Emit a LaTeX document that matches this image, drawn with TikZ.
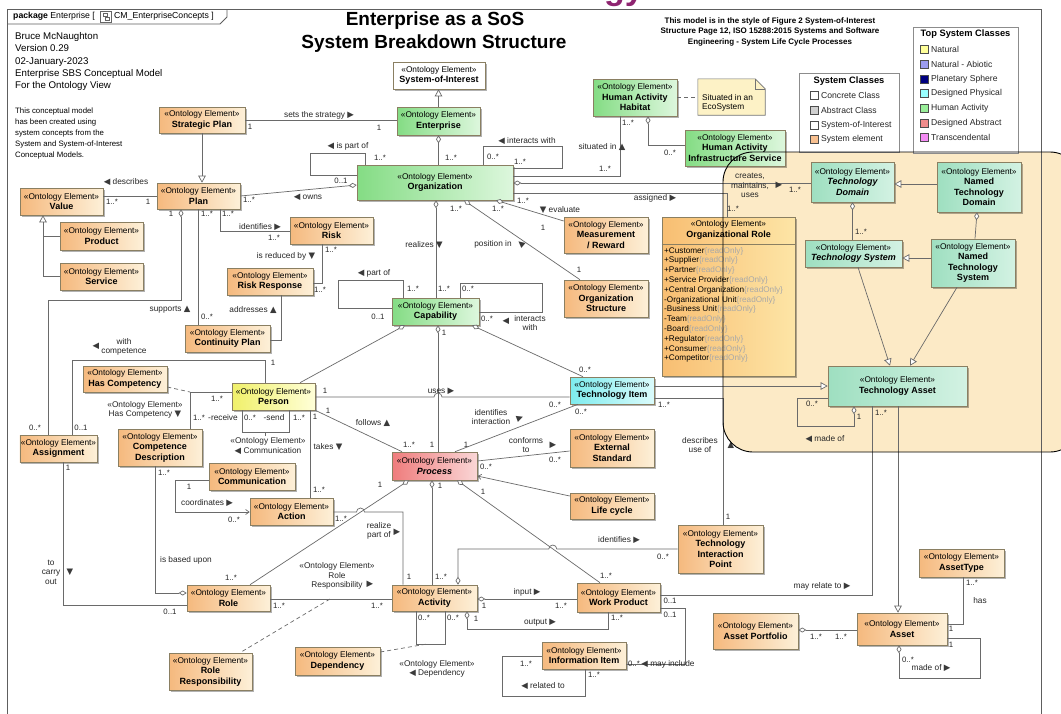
\documentclass[tikz,border=0pt]{standalone}
\usepackage{fontspec}
\setmainfont{Liberation Sans}
\newfontfamily\symf{DejaVu Sans}
\usetikzlibrary{arrows.meta,shadows}

\definecolor{bdr}{HTML}{8A7F62}
\definecolor{lc}{HTML}{6A6A6A}
\definecolor{oL}{HTML}{F5B97E}
\definecolor{oR}{HTML}{FDF0D8}
\definecolor{gL}{HTML}{84DC84}
\definecolor{gR}{HTML}{DDF7DD}
\definecolor{mL}{HTML}{9EDFC0}
\definecolor{mR}{HTML}{D3F2E3}
\definecolor{cL}{HTML}{7EECEE}
\definecolor{cR}{HTML}{DAFBFB}
\definecolor{rL}{HTML}{EF7C7C}
\definecolor{rR}{HTML}{FAD6D6}
\definecolor{yL}{HTML}{F0F06A}
\definecolor{yR}{HTML}{FFFFD8}
\definecolor{rlL}{HTML}{F8BE72}
\definecolor{rlR}{HTML}{FDE5A6}
\definecolor{region}{HTML}{FCEAC6}
\definecolor{notefill}{HTML}{FDF2C6}
\definecolor{ro}{HTML}{A8A8A8}
\definecolor{tri}{HTML}{3A3A3A}
\definecolor{lgd}{HTML}{8C8C8C}
\definecolor{frm}{HTML}{5E5E5E}
\definecolor{brand}{HTML}{8E2470}
\definecolor{cNat}{HTML}{FFFF99}
\definecolor{cAbi}{HTML}{9C9CF0}
\definecolor{cPla}{HTML}{000080}
\definecolor{cDph}{HTML}{99FFFF}
\definecolor{cHum}{HTML}{99EE99}
\definecolor{cDab}{HTML}{F08C8C}
\definecolor{cTra}{HTML}{F58CF5}
\definecolor{cAbs}{HTML}{D0D0D0}
\definecolor{cEle}{HTML}{F8C090}

\newcommand{\stereo}{{\mdseries\fontsize{8.3}{10}\selectfont «Ontology Element»}\\}
\newcommand{\triR}{{\symf\fontsize{8.5}{9}\selectfont\textcolor{tri}{▶}}}
\newcommand{\triL}{{\symf\fontsize{8.5}{9}\selectfont\textcolor{tri}{◀}}}
\newcommand{\triU}{{\symf\fontsize{8.5}{9}\selectfont\textcolor{tri}{▲}}}
\newcommand{\triD}{{\symf\fontsize{8.5}{9}\selectfont\textcolor{tri}{▼}}}
\newcommand{\rdo}{\textcolor{ro}{\{readOnly\}}}
% class box: style, name, centre, width, height, then the text
\newcommand{\umlbox}[5]{\node[#1, minimum width=#4, minimum height=#5] (#2) at (#3)}
% free-standing connector label with an automatic name
\newcounter{lbc}
\newcommand{\lb}[3][lbl]{\stepcounter{lbc}\edef\lbname{lb\arabic{lbc}}\node[#1] (\lbname) at (#2) {#3};}

\tikzset{
  box/.style={draw=bdr, line width=0.6pt, align=center, inner sep=1pt,
    font=\fontsize{9}{10.5}\selectfont\bfseries,
    drop shadow={shadow xshift=1.6pt, shadow yshift=-1.6pt, opacity=0.3, fill=black}},
  orng/.style={box, left color=oL, right color=oR},
  grn/.style={box, left color=gL, right color=gR},
  mint/.style={box, left color=mL, right color=mR},
  cyn/.style={box, left color=cL, right color=cR},
  redb/.style={box, left color=rL, right color=rR},
  yel/.style={box, left color=yL, right color=yR},
  wht/.style={box, fill=white},
  conn/.style={draw=lc, line width=0.7pt},
  gen/.style={conn, -{Triangle[length=7pt,width=7.5pt,fill=white]}},
  agg/.style={conn, {Diamond[length=8pt,width=5pt,fill=white]}-},
  agge/.style={conn, -{Diamond[length=8pt,width=5pt,fill=white]}},
  nav/.style={conn, -{Straight Barb[length=3.5pt,width=5pt]}},
  dsh/.style={conn, dash pattern=on 4pt off 3pt},
  lbl/.style={font=\fontsize{8.3}{9.5}\selectfont, text=black!85, inner sep=0pt, align=center},
  mul/.style={font=\fontsize{7.8}{9}\selectfont, text=black!85, inner sep=0pt},
  sw/.style={draw=black!70, minimum size=8, inner sep=0pt, line width=0.5pt},
  lgt/.style={anchor=west, font=\fontsize{8.6}{10}\selectfont, inner sep=0pt, text=black!85},
}

\begin{document}
\begin{tikzpicture}[x=1pt,y=-1pt]
\useasboundingbox (0,0) rectangle (1061,713);
\fill[white] (0,0) rectangle (1061,713);

% tail of a large heading above the sheet
\node[anchor=base west, font=\fontsize{34}{34}\selectfont\bfseries, text=brand, inner sep=0pt] (brand) at (604,-1) {gy};

% technology region background
\path[fill=region, rounded corners=30pt] (723,152) rectangle (1080,452);

% package frame and tab
\draw[frm, line width=0.8pt] (7,716) -- (7,9) -- (1041,9) -- (1041,716);
\draw[frm, line width=0.8pt] (7,24) -- (220,24) -- (227,17) -- (227,9);
\node[anchor=west, inner sep=0pt, font=\fontsize{8.7}{10}\selectfont] (tabtxt) at (13,16.5) {\textbf{package} Enterprise [};
\node[draw=black!60, fill=white, minimum width=11, minimum height=11, inner sep=0pt] (tabicon) at (106,16.5) {};
\draw[black!60, line width=0.5pt] ([xshift=-3pt,yshift=3pt]tabicon.center) rectangle ([xshift=1pt,yshift=0pt]tabicon.center);
\draw[black!60, line width=0.5pt] ([xshift=-1pt,yshift=-1pt]tabicon.center) rectangle ([xshift=3pt,yshift=-3.5pt]tabicon.center);
\node[anchor=west, inner sep=0pt, font=\fontsize{8.7}{10}\selectfont] (tabtxt2) at (114,16.5) {CM\_EnterpriseConcepts ]};

% heading texts
\node[anchor=north west, align=left, inner sep=0pt, font=\fontsize{9.7}{12.4}\selectfont] (author) at (15,32) {Bruce McNaughton\\Version 0.29\\02-January-2023\\Enterprise SBS Conceptual Model\\For the Ontology View};
\node[anchor=north west, align=left, inner sep=0pt, font=\fontsize{7.8}{10.8}\selectfont] (about) at (15,108) {This conceptual model\\has been created using\\system concepts from the\\System and System-of-Interest\\Conceptual Models.};
\node[font=\fontsize{19}{22}\selectfont\bfseries] (title1) at (435,21) {Enterprise as a SoS};
\node[font=\fontsize{19}{22}\selectfont\bfseries] (title2) at (434,44) {System Breakdown Structure};
\node[align=center, inner sep=0pt, font=\fontsize{8}{10.5}\selectfont\bfseries] (source) at (770,31.5) {This model is in the style of Figure 2 System-of-Interest\\Structure Page 12, ISO 15288:2015 Systems and Software\\Engineering - System Life Cycle Processes};

% legends
\node[draw=lgd, fill=white, line width=0.6pt, minimum width=100, minimum height=79] (sclg) at (849,112.5) {};
\node[font=\fontsize{9.3}{10}\selectfont\bfseries, inner sep=0pt] (sclt) at (849,81) {System Classes};
\node[sw, fill=white] (sc1) at (814,95) {};   \node[lgt] (sc1t) at (821,95) {Concrete Class};
\node[sw, fill=cAbs] (sc2) at (814,110) {};   \node[lgt] (sc2t) at (821,110) {Abstract Class};
\node[sw, fill=white] (sc3) at (814,125) {};  \node[lgt] (sc3t) at (821,125) {System-of-Interest};
\node[sw, fill=cEle] (sc4) at (814,139) {};   \node[lgt] (sc4t) at (821,139) {System element};

\node[draw=lgd, fill=white, line width=0.6pt, minimum width=105, minimum height=126] (tslg) at (965.5,90) {};
\node[font=\fontsize{9.3}{10}\selectfont\bfseries, inner sep=0pt] (tslt) at (965.5,34) {Top System Classes};
\node[sw, fill=cNat] (ts1) at (924,49) {};  \node[lgt] (ts1t) at (931,49) {Natural};
\node[sw, fill=cAbi] (ts2) at (924,64) {};  \node[lgt] (ts2t) at (931,64) {Natural - Abiotic};
\node[sw, fill=cPla] (ts3) at (924,79) {};  \node[lgt] (ts3t) at (931,79) {Planetary Sphere};
\node[sw, fill=cDph] (ts4) at (924,93) {};  \node[lgt] (ts4t) at (931,93) {Designed Physical};
\node[sw, fill=cHum] (ts5) at (924,108) {}; \node[lgt] (ts5t) at (931,108) {Human Activity};
\node[sw, fill=cDab] (ts6) at (924,123) {}; \node[lgt] (ts6t) at (931,123) {Designed Abstract};
\node[sw, fill=cTra] (ts7) at (924,137) {}; \node[lgt] (ts7t) at (931,137) {Transcendental};

% ---------------- classes ----------------
\umlbox{wht}{soi}{439,75.5}{92}{27}{\stereo System-of-Interest};
\umlbox{grn}{ent}{438.5,121}{83}{28}{\stereo Enterprise};
\umlbox{orng}{strat}{202,120}{86}{26}{\stereo Strategic Plan};
\umlbox{grn}{org}{435,182.5}{156}{35}{\stereo Organization};
\umlbox{grn}{hah}{635,97.5}{84}{37}{\stereo Human Activity\\Habitat};
\umlbox{grn}{hais}{735,148}{100}{36}{\stereo Human Activity\\Infrastructure Service};
\umlbox{orng}{value}{61.5,201.5}{83}{27}{\stereo Value};
\umlbox{orng}{plan}{198.5,196}{83}{26}{\stereo Plan};
\umlbox{orng}{product}{101.5,236}{83}{28}{\stereo Product};
\umlbox{orng}{service}{101.5,276.5}{83}{27}{\stereo Service};
\umlbox{orng}{risk}{331.5,230.5}{83}{27}{\stereo Risk};
\umlbox{orng}{rresp}{270,281.5}{86}{27}{\stereo Risk Response};
\umlbox{orng}{contp}{227.5,338.5}{85}{27}{\stereo Continuity Plan};
\umlbox{orng}{meas}{606,235}{84}{36}{\stereo Measurement\\/ Reward};
\umlbox{orng}{ostruct}{606,298.5}{84}{37}{\stereo Organization\\Structure};
\umlbox{grn}{cap}{435.5,311.5}{87}{27}{\stereo Capability};
\umlbox{mint}{tdom}{852.5,182}{83}{40}{\stereo{\itshape Technology}\\{\itshape Domain}};
\umlbox{mint}{ntdom}{979,187}{84}{50}{\stereo Named\\Technology\\Domain};
\umlbox{mint}{tsys}{853.5,253.5}{97}{27}{\stereo{\itshape Technology System}};
\umlbox{mint}{ntsys}{973,263}{84}{48}{\stereo Named\\Technology\\System};
\umlbox{mint}{tasset}{897.5,386}{139}{40}{\stereo Technology Asset};
\umlbox{orng}{hascomp}{125,379}{84}{26}{\stereo Has Competency};
\umlbox{yel}{person}{273.5,396.5}{83}{27}{\stereo Person};
\umlbox{orng}{assign}{58.5,448.5}{75}{27}{\stereo Assignment};
\umlbox{orng}{compdesc}{160,447.5}{84}{37}{\stereo Competence\\Description};
\umlbox{orng}{comm}{252,476.5}{86}{27}{\stereo Communication};
\umlbox{orng}{action}{291.5,511.5}{83}{27}{\stereo Action};
\umlbox{cyn}{titem}{612,390.5}{84}{27}{\stereo Technology Item};
\umlbox{redb}{proc}{434.5,466}{85}{28}{\stereo{\itshape Process}};
\umlbox{orng}{extstd}{612,448}{84}{38}{\stereo External\\Standard};
\umlbox{orng}{lcyc}{612,506}{84}{26}{\stereo Life cycle};
\umlbox{orng}{tip}{720.5,549}{85}{48}{\stereo Technology\\Interaction\\Point};
\umlbox{orng}{role}{228.5,598}{83}{26}{\stereo Role};
\umlbox{orng}{activity}{434.5,598}{85}{26}{\stereo Activity};
\umlbox{orng}{wprod}{618.5,597.5}{83}{29}{\stereo Work Product};
\umlbox{orng}{rolresp}{210.5,671.5}{83}{37}{\stereo Role\\Responsibility};
\umlbox{orng}{dep}{337.5,661}{85}{28}{\stereo Dependency};
\umlbox{orng}{info}{584,655.5}{84}{27}{\stereo Information Item};
\umlbox{orng}{asset}{902,629}{90}{32}{\stereo Asset};
\umlbox{orng}{atype}{961.5,563}{85}{28}{\stereo AssetType};
\umlbox{orng}{aport}{755.5,631}{85}{36}{\stereo Asset Portfolio};

% organizational role with its attribute compartment
\node[box, left color=rlL, right color=rlR, minimum width=133, minimum height=159] (orgrole) at (728.5,296.5) {};
\node[align=center, inner sep=0pt, font=\fontsize{9}{10.5}\selectfont\bfseries] (orgrolehd) at (728.5,230) {\stereo Organizational Role};
\draw[draw=bdr, line width=0.6pt] (orgrole.west |- 0,244) -- (orgrole.east |- 0,244);
\node[anchor=north west, align=left, inner sep=0pt, font=\fontsize{8.2}{9.8}\selectfont] (orgroleattr) at (664,247) {+Customer\rdo\\+Supplier\rdo\\+Partner\rdo\\+Service Provider\rdo\\+Central Organization\rdo\\-Organizational Unit\rdo\\-Business Unit\rdo\\-Team\rdo\\-Board\rdo\\+Regulator\rdo\\+Consumer\rdo\\+Competitor\rdo};

% note
\node[minimum width=67, minimum height=36, inner sep=0pt] (note) at (731.5,97) {};
\draw[draw=black!55, fill=notefill, line width=0.6pt] (note.north west) -- ([xshift=-10pt]note.north east) -- ([yshift=-10pt]note.north east) -- (note.south east) -- (note.south west) -- cycle;
\draw[black!55, line width=0.6pt] ([xshift=-10pt]note.north east) -- ([xshift=-10pt,yshift=-10pt]note.north east) -- ([yshift=-10pt]note.north east);
\node[anchor=north west, align=left, inner sep=0pt, font=\fontsize{8.3}{9.5}\selectfont] (notetxt) at (702,94) {Situated in an\\EcoSystem};

% ---------------- connectors ----------------
\draw[conn] (strat.east) -- (strat.east -| ent.west);
\draw[gen] (ent.north) -- (ent.north |- soi.south);
\draw[gen] (strat.south) -- (strat.south |- plan.north);
\draw[agg] (ent.south) -- (ent.south |- org.north);
\draw[conn] (org.north -| 365,0) -- (365,153) -- (310,153) -- (310,175) -- (org.west |- 0,175);
\draw[conn] (org.north -| 483,0) -- (483,146) -- (562,146) -- (562,168) -- (org.east |- 0,168);
\draw[conn] (org.east |- 0,176) -- (620,176) -- (hah.south -| 620,0);
\draw[agg] (hah.south -| 648,0) -- (648,145) -- (hais.west |- 0,145);
\draw[dsh] (hah.east) -- (note.west |- hah.east);
\draw[agg] (org.east |- 0,183) -- (tdom.west |- 0,183);
\draw[conn] (org.east |- 0,193) -- (727,193) -- (orgrole.north -| 727,0);
\draw[agg] (org.south -| 436,0) -- (cap.north -| 436,0);
\draw[agg] (org.south -| 464,0) -- (ostruct.north -| 580,0);
\draw[agg] (org.south -| 496,0) -- (meas.west |- 0,221);
\draw[agge] (plan.east) -- (org.west |- 0,185);

\draw[conn] (value.east |- plan.west) -- (plan.west);
\draw[gen] (service.west) -- (service.west -| 43,0) -- (value.south -| 43,0);
\draw[conn] (product.west) -- (product.west -| 43,0);
\draw[conn] (plan.south -| 220,0) -- (220,231) -- (risk.west |- 0,231);
\draw[conn] (risk.south -| 322,0) -- (322,283) -- (rresp.east |- 0,283);
\draw[conn] (plan.south) -- (plan.south |- contp.north);
\draw[conn] (rresp.south -| 281,0) -- (281,340) -- (contp.east |- 0,340);
\draw[agg] (plan.south -| 181,0) -- (181,300) -- (48,300) -- (assign.north -| 48,0);
\draw[conn] (assign.north -| 72,0) -- (72,360) -- (265,360) -- (person.north -| 265,0);
\draw[conn] (assign.south -| 63,0) -- (63,605) -- (role.west |- 0,605);

\draw[conn] (cap.west |- 0,308) -- (338,308) -- (338,280) -- (403,280) -- (cap.north -| 403,0);
\draw[conn] (cap.north -| 460,0) -- (460,283) -- (542,283) -- (542,312) -- (cap.east |- 0,312);

\coordinate (hcj) at (190,392);
\draw[conn] (person.west |- hcj) -- (hcj) -- (compdesc.north -| hcj);
\draw[dsh] (hascomp.east |- 0,387) -- (hcj);
\draw[conn] (person.south -| 242,0) -- (242,432) -- (289,432) -- (person.south -| 289,0);
\coordinate (cmj) at (265,432);
\draw[dsh] (cmj) -- ++(0,6);
\draw[conn] (person.south -| 310,0) -- (action.north -| 310,0);
\draw[nav] (comm.west |- 0,480) -- (175,480) -- (175,512) -- (action.west |- 0,512);
\draw[agge] (compdesc.south -| 155,0) -- (155,593) -- (role.west |- 0,593);
\draw[agg] (cap.south -| 405,0) -- (person.north -| 300,0);
\draw[agg] (cap.south -| 472,0) -- (titem.north -| 583,0);
\draw[conn] (person.east |- 0,397) -- (434,397) arc[start angle=180, end angle=360, radius=4] -- (titem.west |- 0,397);

\draw[agg] (cap.south -| 438,0) -- (proc.north -| 438,0);
\draw[conn] (person.south east) -- (proc.north -| 402,0);
\draw[conn] (proc.north -| 455,0) -- (titem.south -| 578,0);
\draw[conn] (proc.east |- 0,461) -- (extstd.west |- 0,451);
\draw[nav] (lcyc.west |- 0,496) -- (proc.east |- 0,476);
\draw[agg] (proc.south -| 409,0) -- (role.north -| 250,0);
\draw[conn] (action.east |- 0,512) -- (356.5,512) arc[start angle=180, end angle=360, radius=4] -- (403,512) -- (activity.north -| 403,0);
\draw[agg] (proc.south -| 432,0) -- (activity.north -| 432,0);
\draw[agg] (proc.south -| 457,0) -- (wprod.north -| 600,0);
\draw[agg] (activity.north -| 458,0) -- (458,549) -- (548.8,549) arc[start angle=180, end angle=360, radius=4] -- (tip.west |- 0,549);

\draw[conn] (role.east |- 0,599) -- (activity.west |- 0,599);
\coordinate (rrj) at (330,599);
\draw[dsh] (rrj) -- (rolresp.north -| 240,0);
\draw[conn] (activity.south -| 416,0) -- (416,644) -- (445,644) -- (activity.south -| 445,0);
\coordinate (dpj) at (427,644);
\draw[dsh] (dep.east |- 0,652) -- (dpj);
\draw[agg] (activity.east |- 0,599) -- (wprod.west |- 0,599);
\draw[agg] (activity.south -| 467,0) -- (467,629) -- (608,629) -- (wprod.south -| 608,0);
\draw[conn] (wprod.east |- 0,595) -- (872,595) -- (tasset.south -| 872,0);
\draw[conn] (wprod.east |- 0,608) -- (685,608) -- (685,664) -- (info.east |- 0,664);
\draw[conn] (info.west |- 0,656) -- (502,656) -- (502,696) -- (585,696) -- (info.south -| 585,0);

\draw[gen] (titem.east |- 0,386) -- (tasset.west |- 0,386);
\draw[conn] (titem.east |- 0,398) -- (723,398) -- (tip.north -| 723,0);
\draw[agg] (tdom.south) -- (tdom.south |- tsys.north);
\draw[gen] (ntdom.west |- 0,184) -- (tdom.east |- 0,184);
\draw[gen] (ntsys.west |- 0,258) -- (tsys.east |- 0,258);
\draw[agg] (ntdom.south -| 977,0) -- (ntsys.north -| 975,0);
\draw[gen] (tsys.south -| 858,0) -- (tasset.north -| 890,0);
\draw[gen] (ntsys.south -| 957,0) -- (tasset.north -| 910,0);
\draw[agg] (tasset.south -| 854,0) -- (854,426) -- (797,426) -- (797,398) -- (tasset.west |- 0,398);
\draw[gen] (tasset.south -| 898,0) -- (asset.north -| 898,0);
\draw[conn] (atype.south -| 963,0) -- (963,624) -- (asset.east |- 0,624);
\draw[agge] (asset.east |- 0,638) -- (980,638) -- (980,678) -- (899,678) -- (asset.south -| 899,0);
\draw[agg] (aport.east |- 0,630) -- (asset.west |- 0,630);

% ---------------- labels ----------------
\lb[mul]{250,127}{1}
\lb{319,115}{sets the strategy \triR}
\lb[mul]{379,128}{1}
\lb[mul]{451,158}{1..*}
\lb{348,146}{\triL\ is part of}
\lb[mul]{380,158}{1..*}
\lb[mul]{341,181}{0..1}
\lb{527,141}{\triL\ interacts with}
\lb[mul]{493,157}{0..*}
\lb[mul]{520,162}{1..*}
\lb{602,147}{situated in \triU}
\lb[mul]{628,123}{1..*}
\lb[mul]{605,169}{1..*}
\lb[mul]{670,153}{0..*}
\lb{750,185.5}{creates,\\maintains,\\uses}
\lb{779,185}{\triR}
\lb[mul]{795,190}{1..*}
\lb{655,198}{assigned \triR}
\lb[mul]{733,209}{1..*}
\lb[mul]{456,209}{1..*}
\lb[mul]{498,209}{1..*}
\lb[mul]{523,201}{1..*}
\lb{560,210}{\triD\ evaluate}
\lb[mul]{543,228}{1}
\lb{424,245}{realizes \triD}
\lb{493,244}{position in}
\lb[lbl,rotate=-40]{521,244}{\triL}
\lb[mul]{579,270}{1}
\lb[mul]{413,289}{1..*}
\lb[mul]{444,289}{1..*}
\lb[mul]{468,289}{0..*}
\lb{374,273}{\triL\ part of}
\lb[mul]{378,317}{0..1}
\lb[mul]{487,319}{0..*}
\lb{530,323}{interacts\\with}
\lb{506,321}{\triL}
\lb[mul]{444,333}{1}

\lb{126,182}{\triL\ describes}
\lb[mul]{112,202}{1..*}
\lb[mul]{148,202}{1}
\lb[mul]{249,200}{1..*}
\lb{308,197}{\triL\ owns}
\lb[mul]{228,214}{1..*}
\lb{260,227}{identifies \triR}
\lb[mul]{274,238}{1..*}
\lb{286,256}{is reduced by \triD}
\lb[mul]{331,250}{1..*}
\lb[mul]{320,290}{1..*}
\lb{170,310}{supports \triU}
\lb[mul]{207,317}{0..*}
\lb[mul]{207,214}{1..*}
\lb[mul]{171,214}{1}
\lb{253,310}{addresses \triU}
\lb{96,346}{\triL}
\lb{124,347}{with\\competence}
\lb[mul]{35,428}{0..*}
\lb[mul]{81,428}{0..1}
\lb[mul]{273,363}{1}
\lb[mul]{68,468}{1}

\lb[mul]{217,399}{1..*}
\lb{145,410}{«Ontology Element»\\Has Competency \triD}
\lb[mul]{199,418}{1..*}
\lb{223,418}{-receive}
\lb[mul]{250,418}{0..*}
\lb{274,418}{-send}
\lb[mul]{299,418}{1..*}
\lb[mul]{315,417}{1}
\lb{268,446}{«Ontology Element»\\\triL\ Communication}
\lb{328,447}{takes \triD}
\lb[mul]{319,490}{1..*}
\lb[mul]{189,487}{1}
\lb{207,503}{coordinates \triR}
\lb[mul]{234,520}{0..*}
\lb[mul]{341,519}{1..*}
\lb[mul]{164,473}{1..*}
\lb{51,572}{to\\carry\\out}
\lb{70,572}{\triD}
\lb{186,560}{is based upon}
\lb[mul]{231,578}{1..*}
\lb[mul]{170,612}{0..1}
\lb[mul]{279,606}{1..*}
\lb{337,576}{«Ontology Element»\\Role\\Responsibility}
\lb{370,584}{\triR}
\lb[mul]{377,606}{1..*}
\lb{379,531}{realize\\part of}
\lb{397,532}{\triR}
\lb[mul]{409,577}{1}
\lb[mul]{441,577}{1..*}
\lb[mul]{424,618}{0..*}
\lb[mul]{453,618}{0..*}
\lb[mul]{484,606}{1}
\lb[mul]{476,619}{1}
\lb{527,592}{input \triR}
\lb[mul]{561,606}{1..*}
\lb{540,623}{output \triR}
\lb[mul]{617,618}{1..*}
\lb{619,540}{identifies \triR}
\lb[mul]{663,557}{0..*}
\lb[mul]{606,576}{1..*}
\lb[mul]{670,601}{0..1}
\lb[mul]{670,615}{0..1}
\lb[mul]{634,664}{0..*}
\lb{668,664}{\triL\ may include}
\lb[mul]{526,664}{1..*}
\lb[mul]{594,675}{1..*}
\lb{543,686}{\triL\ related to}
\lb{437,669}{«Ontology Element»\\\triL\ Dependency}

\lb{441,391}{uses \triR}
\lb[mul]{325,391}{1}
\lb[mul]{555,405}{0..*}
\lb[mul]{585,370}{0..*}
\lb[mul]{581,412}{0..*}
\lb{373,423}{follows \triU}
\lb[mul]{328,411}{1}
\lb[mul]{409,445}{1..*}
\lb[mul]{432,445}{1}
\lb[mul]{466,445}{1}
\lb{491,417}{identifies\\interaction}
\lb[lbl,rotate=20]{520,418}{\triR}
\lb{526,445}{conforms\\to}
\lb{553,445}{\triR}
\lb[mul]{555,460}{0..*}
\lb[mul]{486,467}{0..*}
\lb[mul]{380,485}{1}
\lb[mul]{440,486}{1}
\lb[mul]{483,492}{1}

\lb[mul]{861,232}{1..*}
\lb[mul]{812,404}{0..*}
\lb[mul]{859,417}{1}
\lb[mul]{881,413}{1..*}
\lb{825,439}{\triL\ made of}
\lb{700,445}{describes\\use of}
\lb{731,445}{\triU}
\lb[mul]{664,405}{1..*}
\lb[mul]{728,517}{1}
\lb{822,586}{may relate to \triR}
\lb[mul]{972,583}{1..*}
\lb{980,601}{has}
\lb[mul]{951,629}{1}
\lb[mul]{951,645}{1}
\lb[mul]{908,660}{0..*}
\lb{931,668}{made of \triR}
\lb[mul]{816,637}{1..*}
\lb[mul]{841,637}{1..*}

% technology region outline, drawn over its contents
\draw[black, line width=0.9pt, rounded corners=30pt] (723,152) rectangle (1080,452);
\end{tikzpicture}
\end{document}
